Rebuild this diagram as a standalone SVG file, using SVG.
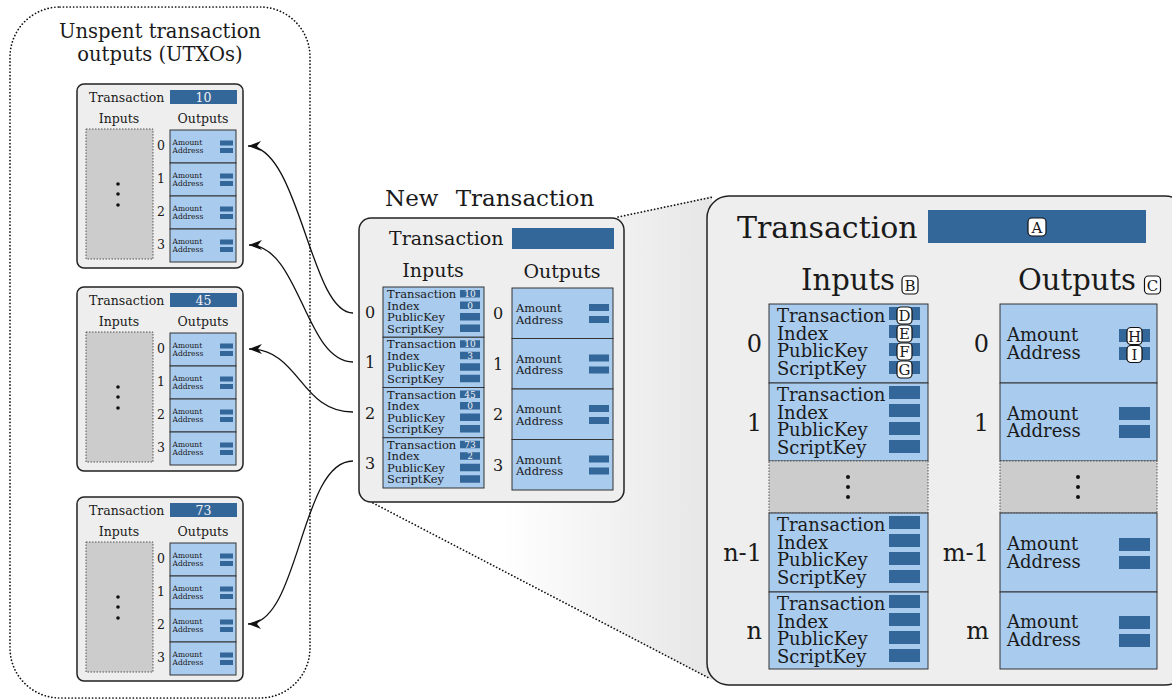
<svg xmlns="http://www.w3.org/2000/svg" width="1172" height="699" viewBox="0 0 1172 699">
<style>
text{font-family:"DejaVu Serif","Liberation Serif",serif;fill:#1a1a1a}
.panel{fill:#eeeeee;stroke:#222;stroke-width:1.5}
.cell{fill:#a9cbee;stroke:#333;stroke-width:1}
.bar{fill:#336699}
.gray{fill:#cccccc;stroke:#555;stroke-width:1;stroke-dasharray:1.5,1.5}
.dot{fill:#111}
.wv{fill:#f2f2f2;text-anchor:middle}
.mid{text-anchor:middle}
.end{text-anchor:end}
.badge{fill:#fff;stroke:#111;stroke-width:1.2}
.conn{fill:none;stroke:#111;stroke-width:1.3}
.dotted{fill:none;stroke:#111;stroke-width:1.7;stroke-dasharray:0.1,3.3;stroke-linecap:round}
.s7{font-size:7.5px}.s12{font-size:12.5px}.s115{font-size:11.5px}.s18{font-size:18px}.s24{font-size:24px}
</style>
<defs>
<linearGradient id="zg" gradientUnits="userSpaceOnUse" x1="500" y1="0" x2="712" y2="0">
<stop offset="0" stop-color="#ffffff"/>
<stop offset="1" stop-color="#e6e6e6"/>
</linearGradient>
<marker id="arr" markerUnits="userSpaceOnUse" markerWidth="14" markerHeight="12" refX="13" refY="5" orient="auto" viewBox="0 0 14 10">
<path d="M0,0 L13,5 L0,10 L4,5 z" fill="#111"/>
</marker>
<g id="ocell">
<rect class="cell" x="0" y="0" width="66" height="33"/>
<text x="2.5" y="15" class="s7">Amount</text>
<text x="2.5" y="23" class="s7">Address</text>
<rect class="bar" x="50" y="10.5" width="13" height="5"/>
<rect class="bar" x="50" y="18" width="13" height="5"/>
</g>
<g id="utxo">
<rect class="panel" x="0" y="0" width="166" height="184" rx="7"/>
<text x="12" y="18" class="s12">Transaction</text>
<rect class="bar" x="93" y="6" width="67" height="14"/>
<text x="42" y="38.5" class="s12 mid">Inputs</text>
<text x="126" y="38.5" class="s12 mid">Outputs</text>
<rect class="gray" x="9" y="45" width="67" height="130"/>
<circle class="dot" cx="41" cy="100" r="1.8"/>
<circle class="dot" cx="41" cy="110" r="1.8"/>
<circle class="dot" cx="41" cy="121" r="1.8"/>
<use href="#ocell" x="93" y="46"/>
<use href="#ocell" x="93" y="79"/>
<use href="#ocell" x="93" y="112"/>
<use href="#ocell" x="93" y="145"/>
<text x="84" y="66" class="s12 mid">0</text>
<text x="84" y="99" class="s12 mid">1</text>
<text x="84" y="132" class="s12 mid">2</text>
<text x="84" y="165" class="s12 mid">3</text>
</g>
</defs>

<!-- zoom projection -->
<g id="zoom">
<polygon points="614,218 712,196 712,680 372,503" fill="url(#zg)"/>
<line class="dotted" x1="618" y1="217" x2="713" y2="197"/>
<line class="dotted" x1="373" y1="503" x2="709" y2="678"/>
</g>

<!-- UTXO container -->
<g id="utxos">
<rect class="dotted" x="10" y="7" width="300" height="691" rx="50"/>
<text x="160" y="37.5" font-size="19.5" class="mid">Unspent transaction</text>
<text x="160" y="61" font-size="19.5" class="mid">outputs (UTXOs)</text>
</g>

<g id="tx10" transform="translate(77,84)">
<use href="#utxo"/>
<text x="126.5" y="17.5" class="s12 wv">10</text>
</g>
<g id="tx45" transform="translate(77,287)">
<use href="#utxo"/>
<text x="126.5" y="17.5" class="s12 wv">45</text>
</g>
<g id="tx73" transform="translate(77,497)">
<use href="#utxo"/>
<text x="126.5" y="17.5" class="s12 wv">73</text>
</g>

<!-- New transaction -->
<g id="newtx">
<text x="385" y="206" font-size="23" word-spacing="10">New Transaction</text>
<rect class="panel" x="359" y="218" width="265" height="284" rx="12"/>
<text x="389" y="245" font-size="19">Transaction</text>
<rect class="bar" x="512" y="228" width="102" height="21"/>
<text x="433" y="277" font-size="19" class="mid">Inputs</text>
<text x="562" y="278" font-size="19" class="mid">Outputs</text>
<g id="nin0">
<rect class="cell" x="383" y="287" width="101" height="50.25"/>
<text x="387" y="298" class="s115">Transaction</text><text x="387" y="309.5" class="s115">Index</text><text x="387" y="321" class="s115">PublicKey</text><text x="387" y="332.5" class="s115">ScriptKey</text>
<rect class="bar" x="460" y="290" width="20" height="7.5"/><rect class="bar" x="460" y="301.5" width="20" height="7.5"/><rect class="bar" x="460" y="313" width="20" height="7.5"/><rect class="bar" x="460" y="324.5" width="20" height="7.5"/>
<text x="470" y="297" font-size="9" class="wv">10</text><text x="470" y="308.5" font-size="9" class="wv">0</text>
<text x="370" y="318" font-size="16" class="mid">0</text>
</g>
<g id="nin1">
<rect class="cell" x="383" y="337.25" width="101" height="50.25"/>
<text x="387" y="348.25" class="s115">Transaction</text><text x="387" y="359.75" class="s115">Index</text><text x="387" y="371.25" class="s115">PublicKey</text><text x="387" y="382.75" class="s115">ScriptKey</text>
<rect class="bar" x="460" y="340.25" width="20" height="7.5"/><rect class="bar" x="460" y="351.75" width="20" height="7.5"/><rect class="bar" x="460" y="363.25" width="20" height="7.5"/><rect class="bar" x="460" y="374.75" width="20" height="7.5"/>
<text x="470" y="347.25" font-size="9" class="wv">10</text><text x="470" y="358.75" font-size="9" class="wv">3</text>
<text x="370" y="368.25" font-size="16" class="mid">1</text>
</g>
<g id="nin2">
<rect class="cell" x="383" y="387.5" width="101" height="50.25"/>
<text x="387" y="398.5" class="s115">Transaction</text><text x="387" y="410" class="s115">Index</text><text x="387" y="421.5" class="s115">PublicKey</text><text x="387" y="433" class="s115">ScriptKey</text>
<rect class="bar" x="460" y="390.5" width="20" height="7.5"/><rect class="bar" x="460" y="402" width="20" height="7.5"/><rect class="bar" x="460" y="413.5" width="20" height="7.5"/><rect class="bar" x="460" y="425" width="20" height="7.5"/>
<text x="470" y="397.5" font-size="9" class="wv">45</text><text x="470" y="409" font-size="9" class="wv">0</text>
<text x="370" y="418.5" font-size="16" class="mid">2</text>
</g>
<g id="nin3">
<rect class="cell" x="383" y="437.75" width="101" height="50.25"/>
<text x="387" y="448.75" class="s115">Transaction</text><text x="387" y="460.25" class="s115">Index</text><text x="387" y="471.75" class="s115">PublicKey</text><text x="387" y="483.25" class="s115">ScriptKey</text>
<rect class="bar" x="460" y="440.75" width="20" height="7.5"/><rect class="bar" x="460" y="452.25" width="20" height="7.5"/><rect class="bar" x="460" y="463.75" width="20" height="7.5"/><rect class="bar" x="460" y="475.25" width="20" height="7.5"/>
<text x="470" y="447.75" font-size="9" class="wv">73</text><text x="470" y="459.25" font-size="9" class="wv">2</text>
<text x="370" y="468.75" font-size="16" class="mid">3</text>
</g>
<g id="nout">
<rect class="cell" x="512" y="288" width="101" height="50.5"/>
<rect class="cell" x="512" y="338.5" width="101" height="50.5"/>
<rect class="cell" x="512" y="389" width="101" height="50.5"/>
<rect class="cell" x="512" y="439.5" width="101" height="50.5"/>
<text x="516" y="312" class="s115">Amount</text><text x="516" y="323.5" class="s115">Address</text>
<text x="516" y="362.5" class="s115">Amount</text><text x="516" y="374" class="s115">Address</text>
<text x="516" y="413" class="s115">Amount</text><text x="516" y="424.5" class="s115">Address</text>
<text x="516" y="463.5" class="s115">Amount</text><text x="516" y="475" class="s115">Address</text>
<rect class="bar" x="589" y="304" width="20" height="7"/><rect class="bar" x="589" y="316" width="20" height="7"/>
<rect class="bar" x="589" y="354.5" width="20" height="7"/><rect class="bar" x="589" y="366.5" width="20" height="7"/>
<rect class="bar" x="589" y="405" width="20" height="7"/><rect class="bar" x="589" y="417" width="20" height="7"/>
<rect class="bar" x="589" y="455.5" width="20" height="7"/><rect class="bar" x="589" y="467.5" width="20" height="7"/>
<text x="498" y="319" font-size="16" class="mid">0</text>
<text x="498" y="369.5" font-size="16" class="mid">1</text>
<text x="498" y="420" font-size="16" class="mid">2</text>
<text x="498" y="470.5" font-size="16" class="mid">3</text>
</g>
</g>

<!-- connectors -->
<g id="connectors">
<path class="conn" d="M353,313 C310,313 300,146 248,146" marker-end="url(#arr)"/>
<path class="conn" d="M353,362 C305,362 300,245 249,245" marker-end="url(#arr)"/>
<path class="conn" d="M353,412 C300,412 300,349 249,349" marker-end="url(#arr)"/>
<path class="conn" d="M353,461 C300,461 300,624 248,624" marker-end="url(#arr)"/>
</g>

<!-- Zoomed transaction -->
<g id="detail">
<rect class="panel" x="707" y="196" width="480" height="489" rx="22"/>
<text x="737" y="238" font-size="30">Transaction</text>
<rect class="bar" x="928" y="210" width="218" height="33"/>
<text x="848" y="290" font-size="29" class="mid">Inputs</text>
<text x="1077" y="290" font-size="29" class="mid">Outputs</text>

<g id="din0">
<rect class="cell" x="769" y="304" width="159" height="79"/>
<text x="777" y="322" class="s18">Transaction</text><text x="777" y="339.5" class="s18">Index</text><text x="777" y="357" class="s18">PublicKey</text><text x="777" y="374.5" class="s18">ScriptKey</text>
<rect class="bar" x="889" y="307" width="31" height="13"/><rect class="bar" x="889" y="325" width="31" height="13"/><rect class="bar" x="889" y="343" width="31" height="13"/><rect class="bar" x="889" y="361" width="31" height="13"/>
<text x="762" y="352" class="s24 end">0</text>
</g>
<g id="din1">
<rect class="cell" x="769" y="383" width="159" height="78"/>
<text x="777" y="401" class="s18">Transaction</text><text x="777" y="418.5" class="s18">Index</text><text x="777" y="436" class="s18">PublicKey</text><text x="777" y="453.5" class="s18">ScriptKey</text>
<rect class="bar" x="889" y="386" width="31" height="13"/><rect class="bar" x="889" y="404" width="31" height="13"/><rect class="bar" x="889" y="422" width="31" height="13"/><rect class="bar" x="889" y="440" width="31" height="13"/>
<text x="762" y="430.5" class="s24 end">1</text>
</g>
<g id="dingap">
<rect class="gray" x="769" y="461" width="159" height="52"/>
<circle class="dot" cx="848" cy="477" r="2"/><circle class="dot" cx="848" cy="487" r="2"/><circle class="dot" cx="848" cy="497" r="2"/>
</g>
<g id="dinn1">
<rect class="cell" x="769" y="513" width="159" height="79"/>
<text x="777" y="531" class="s18">Transaction</text><text x="777" y="548.5" class="s18">Index</text><text x="777" y="566" class="s18">PublicKey</text><text x="777" y="583.5" class="s18">ScriptKey</text>
<rect class="bar" x="889" y="516" width="31" height="13"/><rect class="bar" x="889" y="534" width="31" height="13"/><rect class="bar" x="889" y="552" width="31" height="13"/><rect class="bar" x="889" y="570" width="31" height="13"/>
<text x="762" y="561" class="s24 end">n-1</text>
</g>
<g id="dinn">
<rect class="cell" x="769" y="592" width="159" height="77"/>
<text x="777" y="610" class="s18">Transaction</text><text x="777" y="627.5" class="s18">Index</text><text x="777" y="645" class="s18">PublicKey</text><text x="777" y="662.5" class="s18">ScriptKey</text>
<rect class="bar" x="889" y="595" width="31" height="13"/><rect class="bar" x="889" y="613" width="31" height="13"/><rect class="bar" x="889" y="631" width="31" height="13"/><rect class="bar" x="889" y="649" width="31" height="13"/>
<text x="762" y="639" class="s24 end">n</text>
</g>

<g id="dout0">
<rect class="cell" x="1000" y="304" width="157" height="79"/>
<text x="1007" y="341" class="s18">Amount</text><text x="1007" y="358.5" class="s18">Address</text>
<rect class="bar" x="1119" y="329" width="31" height="13"/><rect class="bar" x="1119" y="347" width="31" height="13"/>
<text x="989" y="352" class="s24 end">0</text>
</g>
<g id="dout1">
<rect class="cell" x="1000" y="383" width="157" height="78"/>
<text x="1007" y="419.5" class="s18">Amount</text><text x="1007" y="437" class="s18">Address</text>
<rect class="bar" x="1119" y="407" width="31" height="13"/><rect class="bar" x="1119" y="425" width="31" height="13"/>
<text x="989" y="430.5" class="s24 end">1</text>
</g>
<g id="doutgap">
<rect class="gray" x="1000" y="461" width="157" height="52"/>
<circle class="dot" cx="1078" cy="477" r="2"/><circle class="dot" cx="1078" cy="487" r="2"/><circle class="dot" cx="1078" cy="497" r="2"/>
</g>
<g id="doutm1">
<rect class="cell" x="1000" y="513" width="157" height="79"/>
<text x="1007" y="550" class="s18">Amount</text><text x="1007" y="567.5" class="s18">Address</text>
<rect class="bar" x="1119" y="538" width="31" height="13"/><rect class="bar" x="1119" y="556" width="31" height="13"/>
<text x="989" y="561" class="s24 end">m-1</text>
</g>
<g id="doutm">
<rect class="cell" x="1000" y="592" width="157" height="77"/>
<text x="1007" y="628" class="s18">Amount</text><text x="1007" y="645.5" class="s18">Address</text>
<rect class="bar" x="1119" y="616" width="31" height="13"/><rect class="bar" x="1119" y="634" width="31" height="13"/>
<text x="989" y="639" class="s24 end">m</text>
</g>

<g id="badges">
<rect class="badge" x="1028" y="218" width="18" height="18" rx="4"/><text x="1037" y="232.5" font-size="15" class="mid">A</text>
<rect class="badge" x="902" y="276" width="16" height="18" rx="4"/><text x="910" y="290.5" font-size="15" class="mid">B</text>
<rect class="badge" x="1144.5" y="276" width="16" height="18" rx="4"/><text x="1152.5" y="290.5" font-size="15" class="mid">C</text>
<rect class="badge" x="897" y="307" width="15" height="17" rx="4"/><text x="904.5" y="321" font-size="15" class="mid">D</text>
<rect class="badge" x="897" y="325" width="15" height="17" rx="4"/><text x="904.5" y="339" font-size="15" class="mid">E</text>
<rect class="badge" x="897" y="343" width="15" height="17" rx="4"/><text x="904.5" y="357" font-size="15" class="mid">F</text>
<rect class="badge" x="897" y="361" width="15" height="17" rx="4"/><text x="904.5" y="375" font-size="15" class="mid">G</text>
<rect class="badge" x="1127" y="327.5" width="15" height="17" rx="4"/><text x="1134.5" y="341.5" font-size="15" class="mid">H</text>
<rect class="badge" x="1127" y="345.5" width="15" height="17" rx="4"/><text x="1134.5" y="359.5" font-size="15" class="mid">I</text>
</g>
</g>
</svg>
